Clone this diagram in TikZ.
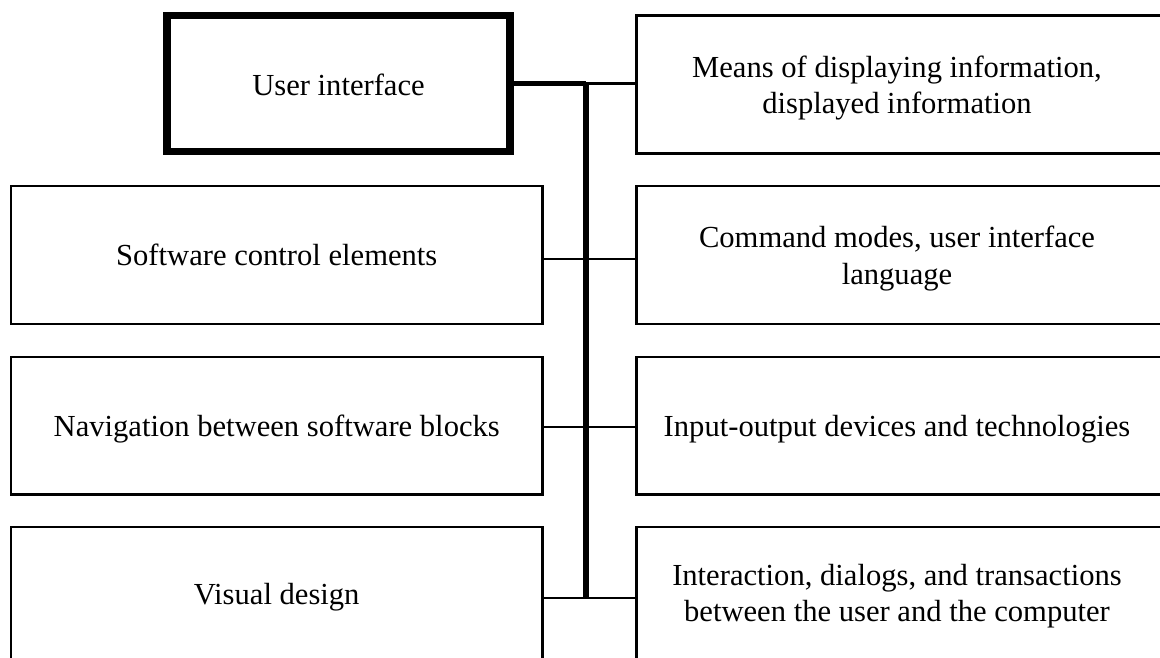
\documentclass[tikz,border=0pt]{standalone}
\usepackage{fontspec}
\setmainfont{Liberation Serif}
\usetikzlibrary{calc}
\begin{document}
\begin{tikzpicture}[x=1pt,y=-1pt,
  box/.style={draw, rectangle, line width=2.5pt, inner sep=0pt, outer sep=0pt},
  mainbox/.style={box, line width=7.5pt},
  rbox/.style={box, minimum width=543.5pt},
  lbox/.style={box, minimum width=531.5pt},
  lbl/.style={font=\fontsize{30.6}{36.5}\selectfont, align=center, inner sep=0pt},
  lblone/.style={lbl, anchor=base},
  trunkline/.style={line width=6pt},
  feedline/.style={line width=5pt},
  branch/.style={line width=2.5pt}]
\useasboundingbox (0,0) rectangle (1160,657);
\clip (0,0) rectangle (1160,657);
% main box
\node[mainbox, minimum width=343pt, minimum height=136pt] (ui) at (338.5,83.5) {};
\node[lblone] (uit) at ($(ui.center)+(0,12)$) {User interface};
% right boxes
\node[rbox, minimum height=138pt] (R1) at (908.25,84.5) {};
\node[rbox, minimum height=138pt] (R2) at (908.25,255) {};
\node[rbox, minimum height=137.5pt] (R3) at (908.25,425.75) {};
\node[rbox, minimum height=133pt] (R4) at (908.25,593.5) {};
% left boxes
\node[lbox, minimum height=138pt] (L2) at (276.75,255) {};
\node[lbox, minimum height=137.5pt] (L3) at (276.75,425.75) {};
\node[lbox, minimum height=133pt] (L4) at (276.75,593.5) {};
% labels
\node[lbl] (R1t) at ($(R1.center)+(-11.25,3.5)$) {Means of displaying information,\\displayed information};
\node[lbl] (R2t) at ($(R2.center)+(-11.25,3.5)$) {Command modes, user interface\\language};
\node[lblone] (R3t) at ($(R3.center)+(-11.25,10.6)$) {Input-output devices and technologies};
\node[lbl] (R4t) at ($(R4.center)+(-11.25,2.8)$) {Interaction, dialogs, and transactions\\between the user and the computer};
\node[lblone] (L2t) at ($(L2.center)+(0,10.6)$) {Software control elements};
\node[lblone] (L3t) at ($(L3.center)+(0,10.6)$) {Navigation between software blocks};
\node[lblone] (L4t) at ($(L4.center)+(0,10.6)$) {Visual design};
% connectors
\coordinate (j2) at (586,259);
\coordinate (j3) at (586,427);
\coordinate (j4) at (586,598);
\draw[feedline] (ui.east) -- (ui.east -| j4);
\draw[branch] (ui.east -| j4) -- (ui.east -| R1.west);
\draw[trunkline] (ui.east -| j4) -- (j4);
\draw[branch] (j2 -| L2.east) -- (j2 -| R2.west);
\draw[branch] (j3 -| L3.east) -- (j3 -| R3.west);
\draw[branch] (j4 -| L4.east) -- (j4 -| R4.west);
\end{tikzpicture}
\end{document}
